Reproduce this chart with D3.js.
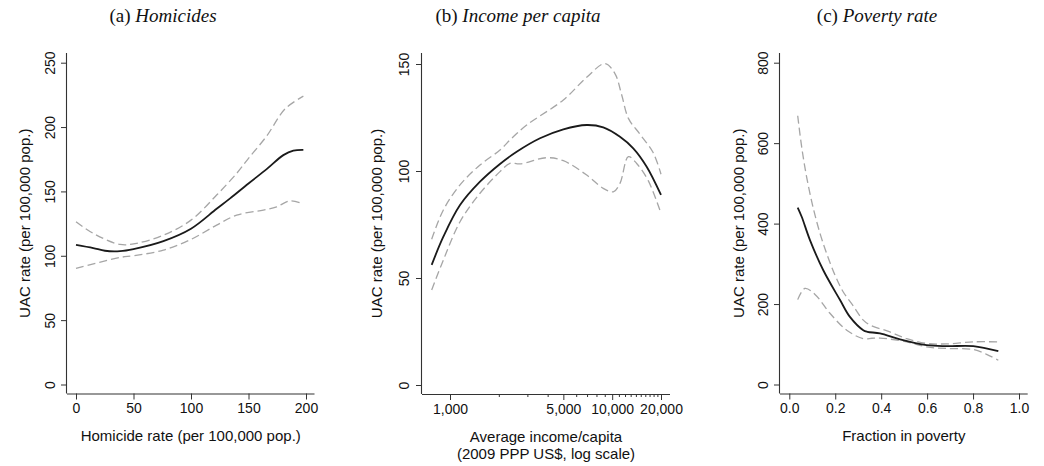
<!DOCTYPE html>
<html>
<head>
<meta charset="utf-8">
<script src="https://cdn.jsdelivr.net/npm/d3@7"></script>
<style>
  html, body { margin: 0; padding: 0; background: #ffffff; }
  svg { display: block; }
</style>
</head>
<body>
<svg id="chart" width="1044" height="466"></svg>
<script>
// (a) Homicides: local fit and 95% band
const homX      = [0, 15, 25.2, 38.3, 50, 76, 100, 122.3, 134, 150, 165.8, 180.3, 189, 197.7];
const homFit    = [108.5, 106, 103.9, 103.6, 105.2, 111.4, 121, 136.5, 144.6, 156.2, 167.3, 178.2, 181.7, 182.3];
const homUpX    = [0, 15, 38.3, 52.7, 76, 100, 122.3, 139.7, 150, 165.8, 181.7, 197.7];
const homUp     = [126.4, 117.4, 108.8, 109.7, 116, 127.7, 147.2, 164, 175.7, 193, 214, 224];
const homLoX    = [0, 38.3, 50, 76, 100, 122.3, 139.7, 162.9, 174.5, 186, 197.7];
const homLo     = [90.2, 98.7, 100, 104.4, 112.7, 123.8, 131.6, 135.5, 138, 142.7, 140.2];
const homXTicks = [0, 50, 100, 150, 200];
const homYTicks = [0, 50, 100, 150, 200, 250];

// (b) Income per capita (log scale)
const incX      = [771, 910, 1153, 1531, 2033, 2577, 3589, 5000, 6964, 8810, 11170, 13490, 16320, 20000];
const incFit    = [56.1, 69.3, 84.1, 95, 103.3, 109, 115.3, 119.5, 121.5, 120.4, 116, 110.6, 102, 88.8];
const incUpX    = [771, 910, 1153, 1531, 2033, 2401, 2971, 5000, 6964, 9030, 10400, 11450, 12590, 14840, 17920, 20000];
const incUp     = [68.1, 81.8, 93.5, 102.8, 109.8, 115.3, 121.5, 133.2, 143.8, 150.2, 145.5, 135.5, 124.6, 117.2, 108.5, 98.5];
const incLoX    = [771, 910, 1153, 1531, 2033, 2344, 2702, 3946, 5000, 6964, 8810, 10160, 11170, 12590, 14160, 16690, 20000];
const incLo     = [44.4, 58.4, 76.3, 89.6, 99.7, 103.6, 103.3, 106.2, 104.8, 98.1, 91.9, 90.3, 94.2, 106.7, 103.5, 95.5, 80.2];
const incXTicks = [1000, 5000, 10000, 20000];
const incXMinor = [2000, 3000, 4000, 6000, 7000, 8000, 9000, 11000, 12000, 13000, 14000, 15000, 16000, 17000, 18000, 19000];
const incYTicks = [0, 50, 100, 150];

// (c) Poverty rate
const povX      = [0.0366, 0.054, 0.09, 0.148, 0.221, 0.264, 0.322, 0.34, 0.395, 0.482, 0.598, 0.685, 0.801, 0.91];
const povFit    = [440, 417, 359, 284, 210, 168, 135, 131, 127, 112, 97.8, 95.3, 95.3, 82.8];
const povUpX    = [0.0366, 0.054, 0.0757, 0.1045, 0.134, 0.163, 0.199, 0.235, 0.279, 0.322, 0.351, 0.438, 0.511, 0.598, 0.685, 0.801, 0.91];
const povUp     = [668, 590, 515, 438, 375, 325, 272, 230, 195, 160, 148, 130.8, 114, 102, 101, 106, 106];
const povLoX    = [0.0366, 0.068, 0.112, 0.177, 0.25, 0.322, 0.36, 0.395, 0.511, 0.598, 0.685, 0.801, 0.859, 0.91];
const povLo     = [211, 238.8, 224, 177, 135, 114, 115, 115.5, 106, 93.5, 89.5, 87, 75, 60.4];
const povXTicks = [0, 0.2, 0.4, 0.6, 0.8, 1.0];
const povYTicks = [0, 200, 400, 600, 800];

const svg = d3.select("#chart");
const sans = '"Liberation Sans", Arial, Helvetica, sans-serif';
const serif = '"Liberation Serif", "Times New Roman", serif';
const axisColor = "#333333";

function drawPanel(p) {
  const g = svg.append("g");
  const x = p.x, y = p.y;

  // panel title: "(a) " upright, name italic
  const t = g.append("text")
    .attr("x", p.titleX).attr("y", 22)
    .attr("text-anchor", "middle")
    .attr("font-family", serif).attr("font-size", 19).attr("fill", "#111");
  t.append("tspan").text(p.tag + " ");
  t.append("tspan").attr("font-style", "italic").text(p.name);

  // axes
  const xAxis = d3.axisBottom(x).tickValues(p.xTicks).tickFormat(p.xFmt).tickSize(6).tickPadding(4);
  const gx = g.append("g").attr("transform", `translate(0,${p.axisY})`).call(xAxis);
  gx.select(".domain").attr("d", `M${p.axisX},0.5H${p.axisRight}`);

  if (p.xMinor) {
    const gm = g.append("g").attr("transform", `translate(0,${p.axisY})`)
      .call(d3.axisBottom(x).tickValues(p.xMinor).tickFormat("").tickSize(3));
    gm.select(".domain").remove();
    gm.selectAll("line").attr("stroke", axisColor);
  }

  const yAxis = d3.axisLeft(y).tickValues(p.yTicks).tickFormat(d3.format("d")).tickSize(6).tickPadding(0);
  const gy = g.append("g").attr("transform", `translate(${p.axisX},0)`).call(yAxis);
  gy.select(".domain").attr("d", `M-0.5,${p.axisTop}V${p.axisY}`);

  [gx, gy].forEach(a => {
    a.selectAll(".domain").attr("stroke", axisColor).attr("stroke-width", 1.1);
    a.selectAll(".tick line").attr("stroke", axisColor).attr("stroke-width", 1);
    a.selectAll(".tick text").attr("font-family", sans).attr("font-size", 14).attr("fill", "#111");
  });

  // rotated y tick labels
  gy.selectAll(".tick text")
    .attr("x", null).attr("dy", null)
    .attr("text-anchor", "middle")
    .attr("transform", `translate(${p.yLabX - p.axisX},0) rotate(-90)`);

  // axis titles
  g.append("text")
    .attr("transform", `translate(${p.yTitleX},${(p.axisTop + p.axisY) / 2}) rotate(-90)`)
    .attr("text-anchor", "middle")
    .attr("font-family", sans).attr("font-size", 15).attr("fill", "#111")
    .text("UAC rate (per 100,000 pop.)");

  const cx = (p.axisX + p.axisRight) / 2;
  p.xTitle.forEach((line, i) => {
    g.append("text")
      .attr("x", cx).attr("y", p.xTitleY + i * 16.5)
      .attr("text-anchor", "middle")
      .attr("font-family", sans).attr("font-size", 15).attr("fill", "#111")
      .text(line);
  });

  // curves
  const line = d3.line().x(d => x(d[0])).y(d => y(d[1])).curve(d3.curveCatmullRom.alpha(0.5));
  const zip = (a, b) => a.map((v, i) => [v, b[i]]);

  g.append("path").datum(zip(p.upX, p.up))
    .attr("d", line).attr("fill", "none")
    .attr("stroke", "#a6a6a6").attr("stroke-width", 1.3).attr("stroke-dasharray", "8,4");
  g.append("path").datum(zip(p.loX, p.lo))
    .attr("d", line).attr("fill", "none")
    .attr("stroke", "#a6a6a6").attr("stroke-width", 1.3).attr("stroke-dasharray", "8,4");
  g.append("path").datum(zip(p.fitX, p.fit))
    .attr("d", line).attr("fill", "none")
    .attr("stroke", "#1a1a1a").attr("stroke-width", 1.8);
}

drawPanel({
  tag: "(a)", name: "Homicides", titleX: 163,
  x: d3.scaleLinear().domain([0, 200]).range([76, 306]),
  y: d3.scaleLinear().domain([0, 250]).range([384.5, 62.7]),
  axisX: 67, axisRight: 314.5, axisTop: 53, axisY: 393.5,
  xTicks: homXTicks, xFmt: d3.format("d"), yTicks: homYTicks,
  yLabX: 55, yTitleX: 30, xTitleY: 440.5,
  xTitle: ["Homicide rate (per 100,000 pop.)"],
  fitX: homX, fit: homFit, upX: homUpX, up: homUp, loX: homLoX, lo: homLo
});

drawPanel({
  tag: "(b)", name: "Income per capita", titleX: 518,
  x: d3.scaleLog().domain([1000, 20000]).range([450, 661]),
  y: d3.scaleLinear().domain([0, 150]).range([385, 64]),
  axisX: 422, axisRight: 670, axisTop: 53, axisY: 394,
  xTicks: incXTicks, xFmt: d3.format(","), xMinor: incXMinor, yTicks: incYTicks,
  yLabX: 408.5, yTitleX: 382, xTitleY: 442,
  xTitle: ["Average income/capita", "(2009 PPP US$, log scale)"],
  fitX: incX, fit: incFit, upX: incUpX, up: incUp, loX: incLoX, lo: incLo
});

drawPanel({
  tag: "(c)", name: "Poverty rate", titleX: 877,
  x: d3.scaleLinear().domain([0, 1]).range([789.3, 1019]),
  y: d3.scaleLinear().domain([0, 800]).range([384.5, 62.7]),
  axisX: 780, axisRight: 1027.7, axisTop: 53, axisY: 393.5,
  xTicks: povXTicks, xFmt: d3.format(".1f"), yTicks: povYTicks,
  yLabX: 768, yTitleX: 744, xTitleY: 440.5,
  xTitle: ["Fraction in poverty"],
  fitX: povX, fit: povFit, upX: povUpX, up: povUp, loX: povLoX, lo: povLo
});
</script>
</body>
</html>
